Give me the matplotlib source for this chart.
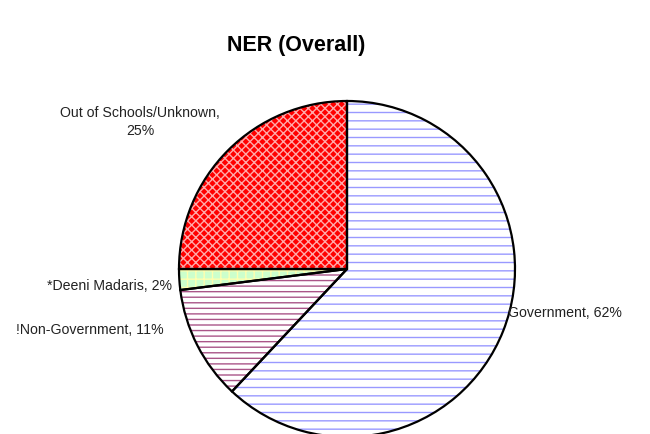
import matplotlib.pyplot as plt

plt.rcParams['font.family'] = ['Liberation Sans', 'DejaVu Sans']
plt.rcParams['hatch.linewidth'] = 1.0

categories = ['Government', '!Non-Government', '*Deeni Madaris', 'Out of Schools/Unknown']
values = [62, 11, 2, 25]
label_texts = ['Government, 62%', '!Non-Government, 11%', '*Deeni Madaris, 2%',
               'Out of Schools/Unknown,\n25%']

fills = ['white', 'white', '#ccffcc', '#ff0000']
hatch_cols = ['#9999ff', '#aa5588', '#ffffb0', '#ffaaaa']
hatches = ['--', '---', '++', 'xxxx']

fig = plt.figure(figsize=(6.5, 4.35), dpi=100)
ax = fig.add_axes([0, 0, 1, 1])

center = (347, 435 - 270)
radius = 168

wedges, _ = ax.pie(values, startangle=90, counterclock=False, colors=fills,
                   center=center, radius=radius,
                   wedgeprops=dict(linewidth=0))
for w, h, hc in zip(wedges, hatches, hatch_cols):
    w.set_hatch(h)
    w.set_edgecolor(hc)

ax.pie(values, startangle=90, counterclock=False, center=center, radius=radius,
       wedgeprops=dict(fill=False, edgecolor='black', linewidth=1.6))

ax.set_xlim(0, 650)
ax.set_ylim(0, 435)
ax.set_aspect('equal')
ax.axis('off')

# label positions (pixel coords from top-left)
pos = [(508, 313, 'left'), (164, 330, 'right'), (172, 286, 'right'), (140, 122, 'center')]
for t, (x, y, ha) in zip(label_texts, pos):
    ax.text(x, 435 - y, t, ha=ha, va='center', fontsize=10.2, color='#222222',
            linespacing=1.45)

ax.text(296, 435 - 45, 'NER (Overall)', ha='center', va='center',
        fontsize=15.5, fontweight='bold')

fig.savefig('out.png', dpi=100)
